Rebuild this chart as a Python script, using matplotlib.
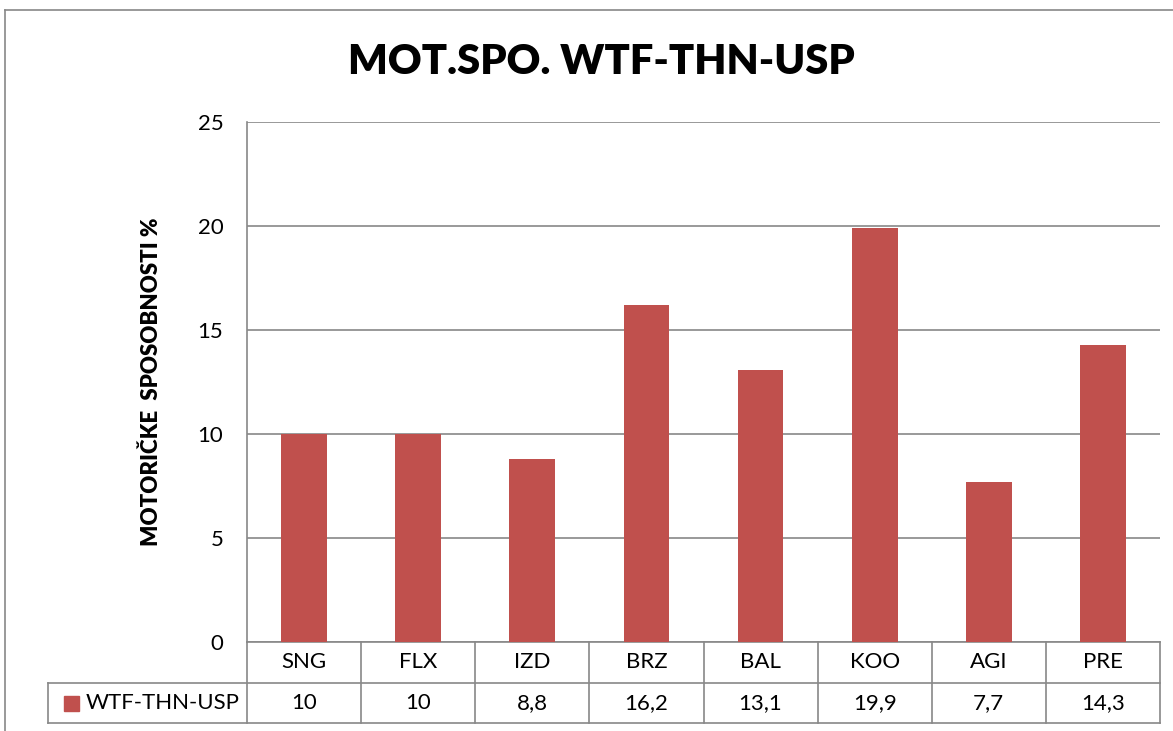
import matplotlib.pyplot as plt
from matplotlib.lines import Line2D
from matplotlib.patches import Rectangle

categories = ["SNG", "FLX", "IZD", "BRZ", "BAL", "KOO", "AGI", "PRE"]
values = [10, 10, 8.8, 16.2, 13.1, 19.9, 7.7, 14.3]
series_name = "WTF-THN-USP"
value_labels = ["10", "10", "8,8", "16,2", "13,1", "19,9", "7,7", "14,3"]

plt.rcParams['font.family'] = ['Lato', 'DejaVu Sans']

W, H = 1173, 731
fig = plt.figure(figsize=(W / 100, H / 100), dpi=100)

def fx(px):
    return px / W

def fy(py):
    return 1 - py / H

bar_color = '#C0504D'
line_color = '#888888'

# plot area
left, right, top, bottom = 247, 1160, 122, 642
ax = fig.add_axes([fx(left), fy(bottom), fx(right - left), (bottom - top) / H])
x = list(range(len(categories)))
ax.bar(x, values, width=0.4, color=bar_color, zorder=3)
ax.set_xlim(-0.5, len(categories) - 0.5)
ax.set_ylim(0, 25)
ax.set_yticks([0, 5, 10, 15, 20, 25])
ax.set_xticks([])
ax.grid(axis='y', color=line_color, linewidth=1.2, zorder=0)
for s in ['top', 'right']:
    ax.spines[s].set_visible(False)
ax.spines['left'].set_color(line_color)
ax.spines['bottom'].set_color(line_color)
ax.spines['left'].set_linewidth(1.2)
ax.spines['bottom'].set_linewidth(1.2)
ax.tick_params(axis='y', length=0, labelsize=16, pad=17)
ax.set_ylabel("MOTORIČKE  SPOSOBNOSTI %", fontsize=16, fontweight='heavy', labelpad=26)

# title
fig.text(fx(601), fy(62), "MOT.SPO. WTF-THN-USP", ha='center', va='center',
         fontsize=30, fontweight='heavy')

# data table below the axes
row1_bot, row2_bot = 683, 723
xt = ax.get_xaxis_transform()
hl = (row1_bot - bottom) / (bottom - top)
h2 = (row2_bot - bottom) / (bottom - top)
for i, c in enumerate(categories):
    ax.text(i, -hl / 2, c, transform=xt, ha='center', va='center', fontsize=16)
    ax.text(i, -(hl + h2) / 2, value_labels[i], transform=xt, ha='center', va='center', fontsize=16)
for b in [k - 0.5 for k in range(len(categories) + 1)]:
    ax.add_line(Line2D([b, b], [0, -h2], transform=xt, color=line_color,
                       linewidth=1.2, clip_on=False))

# horizontal table lines
tab_left = 48
for py in [row1_bot, row2_bot]:
    fig.add_artist(Line2D([fx(tab_left), fx(right)], [fy(py), fy(py)], color=line_color, linewidth=1.2))
fig.add_artist(Line2D([fx(tab_left), fx(tab_left)], [fy(row1_bot), fy(row2_bot)],
                      color=line_color, linewidth=1.2))

# legend key in table
fig.add_artist(Rectangle((fx(64), fy(711)), fx(15), 15 / H, color=bar_color))
fig.text(fx(86), fy(703), series_name, ha='left', va='center', fontsize=16)

# chart area border
fig.add_artist(Line2D([fx(5), fx(5)], [fy(10), 0], color=line_color, linewidth=1.2))
fig.add_artist(Line2D([fx(5), 1], [fy(10), fy(10)], color=line_color, linewidth=1.2))

plt.savefig('out.png', dpi=100)
